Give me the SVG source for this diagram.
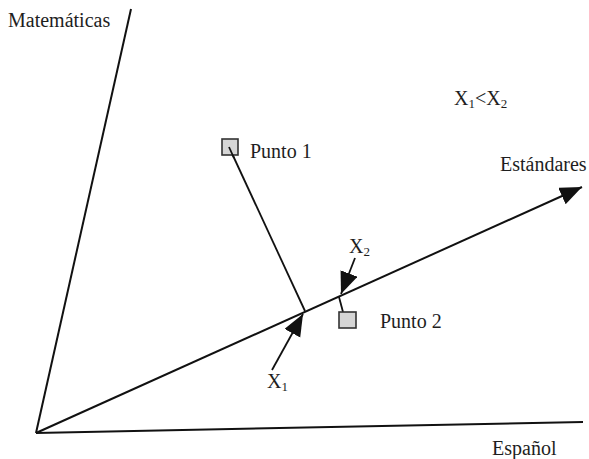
<svg xmlns="http://www.w3.org/2000/svg" width="589" height="459" viewBox="0 0 589 459">
<style>
text{font-family:"Liberation Serif","Times New Roman",serif;font-size:20px;fill:#1e1e1e}
.ax{stroke:#111;stroke-width:2;fill:none}
.ln{stroke:#111;stroke-width:1.8;fill:none}
.box{fill:#d6d6d6;stroke:#333;stroke-width:1.6}
.sub{font-size:13px}
</style>
<defs>
<marker id="ah" markerUnits="userSpaceOnUse" markerWidth="24" markerHeight="20" refX="22" refY="9" orient="auto">
<path d="M0,0 L22,9 L0,18 Z" fill="#111"/>
</marker>
</defs>
<g id="connectors">
<line class="ax" x1="36" y1="433" x2="131" y2="9"/>
<line class="ax" x1="36" y1="433" x2="583" y2="422"/>
<line class="ax" x1="36" y1="433" x2="582" y2="187" marker-end="url(#ah)"/>
<line class="ln" x1="229" y1="147" x2="305" y2="311"/>
<line class="ln" x1="343" y1="312" x2="339" y2="297"/>
<line class="ln" x1="355" y1="258" x2="341" y2="294" marker-end="url(#ah)"/>
<line class="ln" x1="272" y1="370" x2="303" y2="314" marker-end="url(#ah)"/>
</g>
<g id="matematicas"><text x="8" y="27">Matemáticas</text></g>
<g id="espanol"><text x="492" y="455">Español</text></g>
<g id="estandares"><text x="500" y="171">Estándares</text></g>
<g id="relacion"><text x="454" y="105">X<tspan class="sub" dy="3">1</tspan><tspan dy="-3">&lt;X</tspan><tspan class="sub" dy="3">2</tspan></text></g>
<g id="punto1"><rect class="box" x="222" y="139" width="16" height="16"/><line class="ln" x1="229" y1="147" x2="234" y2="158"/><text x="250" y="158">Punto 1</text></g>
<g id="punto2"><rect class="box" x="339" y="312" width="17" height="16"/><text x="380" y="328">Punto 2</text></g>
<g id="x2"><text x="349" y="253">X<tspan class="sub" dy="3">2</tspan></text></g>
<g id="x1"><text x="267" y="388">X<tspan class="sub" dy="3">1</tspan></text></g>
</svg>
